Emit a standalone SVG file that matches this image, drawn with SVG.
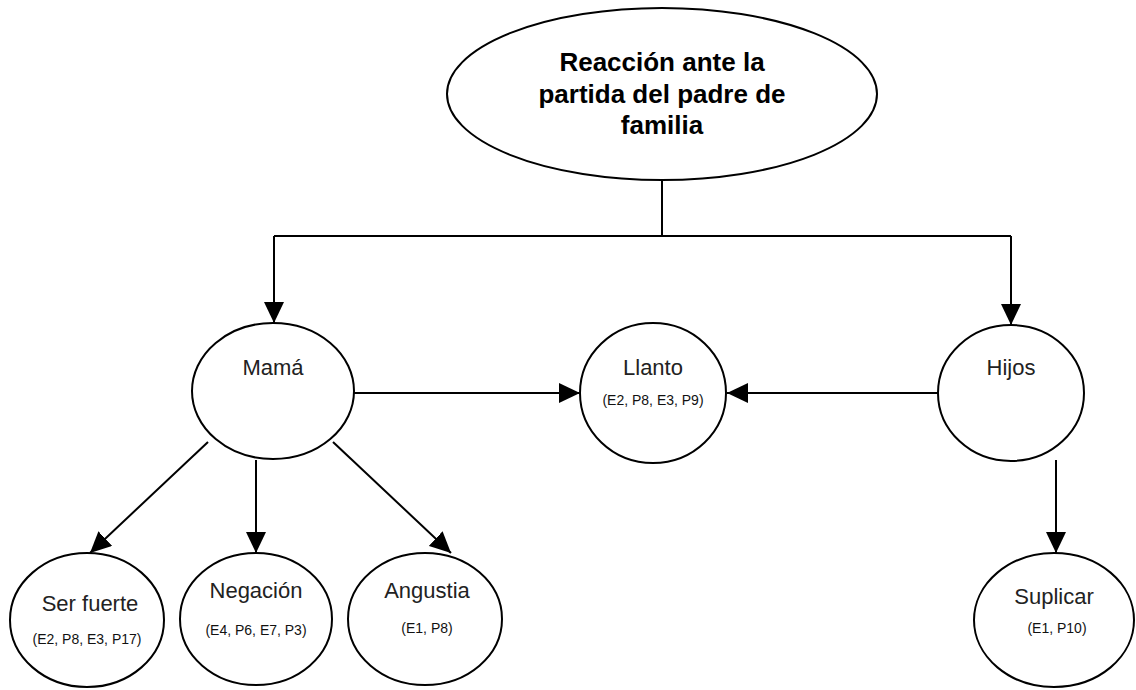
<svg xmlns="http://www.w3.org/2000/svg" width="1136" height="690" viewBox="0 0 1136 690">
<style>
.n{fill:#fff;stroke:#000;stroke-width:2}
.t{font-family:"Liberation Sans",Arial,sans-serif;font-size:22px;fill:#222;text-anchor:middle}
.s{font-family:"Liberation Sans",Arial,sans-serif;font-size:14px;fill:#111;text-anchor:middle}
.b{font-family:"Liberation Sans",Arial,sans-serif;font-size:26px;font-weight:bold;fill:#000;text-anchor:middle}
.c{fill:none;stroke:#000;stroke-width:2}
</style>
<defs>
<marker id="arr" markerWidth="22" markerHeight="20" refX="21" refY="10" orient="auto" markerUnits="userSpaceOnUse">
<path d="M0,0 L21,10 L0,20 Z" fill="#000"/>
</marker>
</defs>
<g id="connectors">
<polyline class="c" points="662,180 662,236"/>
<polyline class="c" points="274,236 1011,236"/>
<polyline class="c" points="274,236 274,323" marker-end="url(#arr)"/>
<polyline class="c" points="1011,236 1011,325" marker-end="url(#arr)"/>
<line class="c" x1="354" y1="393" x2="580" y2="393" marker-end="url(#arr)"/>
<line class="c" x1="938" y1="393" x2="727" y2="393" marker-end="url(#arr)"/>
<line class="c" x1="208" y1="442" x2="90" y2="553" marker-end="url(#arr)"/>
<line class="c" x1="256" y1="460" x2="256" y2="553" marker-end="url(#arr)"/>
<line class="c" x1="333" y1="442" x2="451" y2="553" marker-end="url(#arr)"/>
<line class="c" x1="1056" y1="460" x2="1056" y2="553" marker-end="url(#arr)"/>
</g>
<g id="reaccion">
<ellipse class="n" cx="662" cy="94" rx="215" ry="86"/>
<text class="b" x="662" y="71">Reacción ante la</text>
<text class="b" x="662" y="103">partida del padre de</text>
<text class="b" x="662" y="134">familia</text>
</g>
<g id="mama">
<ellipse class="n" cx="273" cy="391" rx="81" ry="68"/>
<text class="t" x="273" y="375">Mamá</text>
</g>
<g id="llanto">
<ellipse class="n" cx="653" cy="393" rx="73" ry="70"/>
<text class="t" x="653" y="375">Llanto</text>
<text class="s" x="653" y="405">(E2,  P8, E3, P9)</text>
</g>
<g id="hijos">
<ellipse class="n" cx="1011" cy="393" rx="73" ry="68"/>
<text class="t" x="1011" y="375">Hijos</text>
</g>
<g id="ser-fuerte">
<ellipse class="n" cx="87" cy="620" rx="77" ry="67"/>
<text class="t" x="90" y="611">Ser fuerte</text>
<text class="s" x="87" y="644">(E2, P8, E3, P17)</text>
</g>
<g id="negacion">
<ellipse class="n" cx="256" cy="619" rx="76" ry="66"/>
<text class="t" x="256" y="598">Negación</text>
<text class="s" x="256" y="635">(E4, P6, E7, P3)</text>
</g>
<g id="angustia">
<ellipse class="n" cx="425" cy="619" rx="77" ry="66"/>
<text class="t" x="427" y="598">Angustia</text>
<text class="s" x="427" y="633">(E1, P8)</text>
</g>
<g id="suplicar">
<ellipse class="n" cx="1054" cy="620" rx="80" ry="67"/>
<text class="t" x="1054" y="604">Suplicar</text>
<text class="s" x="1057" y="633">(E1, P10)</text>
</g>
</svg>
